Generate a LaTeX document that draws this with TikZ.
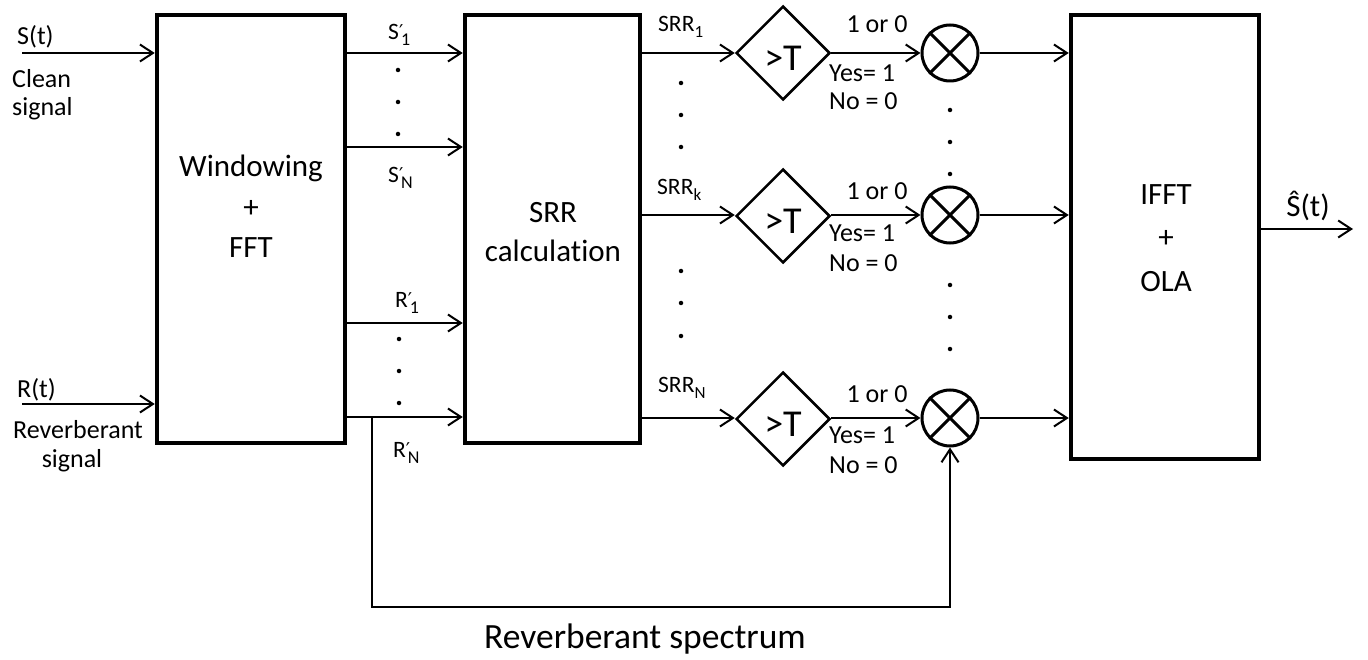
\documentclass[tikz,border=0pt]{standalone}
\usepackage{fontspec}
\setmainfont{Carlito}[Ligatures=NoCommon]
\newfontfamily\djv{DejaVu Sans}
\usetikzlibrary{arrows.meta,shapes.geometric}
\newcommand{\prl}[2]{#1\rlap{\raisebox{1pt}{\djv\fontsize{19}{19}\selectfont ′}}\raisebox{-6pt}{\kern2pt\fontsize{18}{18}\selectfont #2}}
\newcommand{\srl}[1]{SRR\raisebox{-6pt}{\fontsize{17}{17}\selectfont #1}}
\tikzset{
  blk/.style={draw, line width=4.5pt, inner sep=0pt},
  btxt/.style={inner sep=0pt, align=center},
  arr/.style={-{Straight Barb[length=13pt,width=17pt]}, line width=2pt},
  lbl/.style={inner sep=0pt, font=\fontsize{26}{30}\selectfont},
  plbl/.style={inner sep=0pt, font=\fontsize{23.5}{28}\selectfont},
  cmp/.style={draw, diamond, aspect=1, minimum width=94pt, minimum height=94pt, inner sep=0pt, line width=2.5pt, font=\fontsize{38}{40}\selectfont},
  mul/.style={draw, circle, minimum size=56pt, inner sep=0pt, line width=3pt},
  dotc/.style={circle, fill, inner sep=0pt, minimum size=4.5pt},
}
\begin{document}
\begin{tikzpicture}[x=1pt,y=-1pt]
\useasboundingbox (0,0) rectangle (1368,660);

% blocks
\node[blk, minimum width=188pt, minimum height=428pt] (win) at (251,229) {};
\node[blk, minimum width=175pt, minimum height=428pt] (srr) at (552.5,229) {};
\node[blk, minimum width=188pt, minimum height=444pt] (ifft) at (1165,237) {};
\node[btxt, anchor=base, font=\fontsize{31}{40.5}\selectfont] (wintxt) at (251,258) {Windowing\\+\\FFT};
\node[btxt, anchor=base, font=\fontsize{31}{39}\selectfont] (srrtxt) at (553,262) {SRR\\calculation};
\node[btxt, anchor=base, font=\fontsize{31}{44}\selectfont] (iffttxt) at (1166,292) {IFFT\\+\\OLA};

% comparators and multipliers
\node[cmp] (c1) at (783,53) {\raisebox{-17.5pt}[0pt][0pt]{>T}};
\node[cmp] (ck) at (783,216) {\raisebox{-17.5pt}[0pt][0pt]{>T}};
\node[cmp] (cN) at (783,419) {\raisebox{-17.5pt}[0pt][0pt]{>T}};
\foreach \n/\y in {1/53,k/215,N/418}{
  \node[mul] (m\n) at (950,\y) {};
  \draw[line width=3pt] (m\n.north west) -- (m\n.south east) (m\n.north east) -- (m\n.south west);
}

% input signals
\coordinate (sIn) at (22,53);
\coordinate (rIn) at (22,404);
\draw[arr] (sIn) -- (sIn -| win.west);
\draw[arr] (rIn) -- (rIn -| win.west);
\node[lbl, anchor=base west] (st) at (17,45) {S(t)};
\node[lbl, anchor=base west] (cl) at (12,88) {Clean};
\node[lbl, anchor=base west] (sg) at (12,116) {signal};
\node[lbl, anchor=base west] (rt) at (17,397) {R(t)};
\node[lbl, anchor=base west] (rv) at (13,438) {Reverberant};
\node[lbl, anchor=base] (sg2) at (72,467) {signal};

% windowing -> SRR
\coordinate (rS1) at (0,53);
\coordinate (rSN) at (0,147);
\coordinate (rR1) at (0,323);
\coordinate (rRN) at (0,417);
\foreach \r in {rS1,rSN,rR1,rRN}{
  \draw[arr] (win.east |- \r) -- (srr.west |- \r);
}
\node[plbl, anchor=base west] (ls1) at (388,40) {\prl{S}{1}};
\node[plbl, anchor=base west] (lsn) at (388,183) {\prl{S}{N}};
\node[plbl, anchor=base west] (lr1) at (395,308) {\prl{R}{1}};
\node[plbl, anchor=base west] (lrn) at (393,457) {\prl{R}{N}};
\foreach \y in {70,102,134}{ \node[dotc] at (398,\y) {}; }
\foreach \y in {339,371,403}{ \node[dotc] at (399,\y) {}; }

% SRR -> comparators -> multipliers -> IFFT
\foreach \n/\y in {1/53,k/215,N/418}{
  \coordinate (r\n) at (0,\y);
  \draw[arr] (srr.east |- r\n) -- (c\n.west |- r\n);
  \draw[arr] (c\n.east |- r\n) -- (m\n.west);
  \draw[arr] (m\n.east) -- (m\n.east -| ifft.west);
}
\node[plbl, anchor=base west] (s1) at (658,32) {\srl{1}};
\node[plbl, anchor=base west] (sk) at (657,195) {\srl{k}};
\node[plbl, anchor=base west] (sn) at (658,392) {\srl{N}};
\foreach \y in {83,115,147,271,303,336}{ \node[dotc] at (681,\y) {}; }
\foreach \y in {110,142,174,285,317,349}{ \node[dotc] at (950,\y) {}; }

\foreach \n/\a/\b/\c in {1/33/82/110, k/200/242/272, N/402/443/473}{
  \node[lbl, anchor=base] (o\n) at (877,\a) {1 or 0};
  \node[lbl, anchor=base west] (y\n) at (829,\b) {Yes= 1};
  \node[lbl, anchor=base west] (n\n) at (829,\c) {No = 0};
}

% output
\coordinate (out) at (1353,229);
\draw[arr] (out -| ifft.east) -- (out);
\node[inner sep=0pt, anchor=base, font=\fontsize{31}{34}\selectfont] (shat) at (1308,217) {\^{S}(t)};

% feedback
\coordinate (fbtop) at (372,417);
\coordinate (fbbot) at (372,607);
\draw[arr] (fbtop) -- (fbbot) -| (mN.south);
\node[inner sep=0pt, anchor=base, font=\fontsize{35.5}{40}\selectfont] (rs) at (645,648) {Reverberant spectrum};
\end{tikzpicture}
\end{document}
